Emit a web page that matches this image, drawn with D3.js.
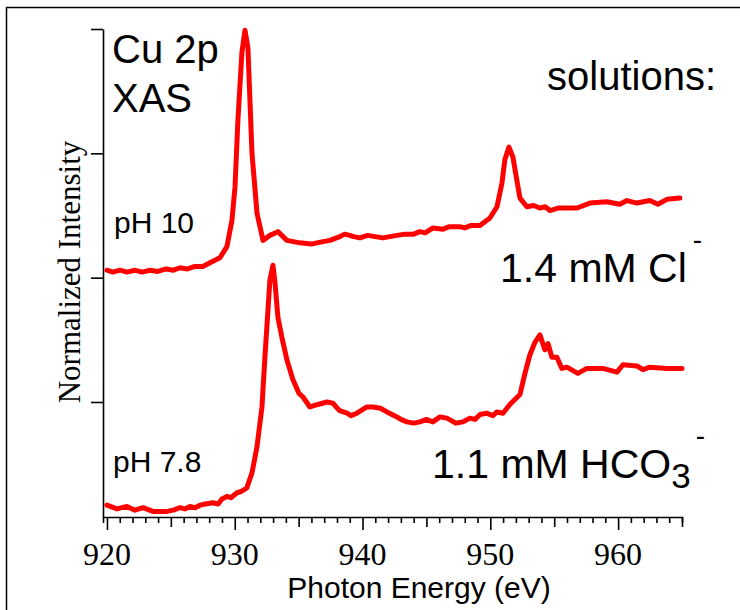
<!DOCTYPE html>
<html>
<head>
<meta charset="utf-8">
<script src="https://cdn.jsdelivr.net/npm/d3@7"></script>
<style>
    body { margin: 0; background: #fff; }
    .sans { font-family: "Liberation Sans", Arial, sans-serif; }
    .serif { font-family: "Liberation Serif", "Times New Roman", serif; }
</style>
</head>
<body>
<div id="chart"></div>
<script>

// pH 10, 1.4 mM Cl- (offset spectrum, upper)
var energyCl = [920.0, 920.47, 921.02, 921.56, 922.19, 922.74, 923.36, 923.99, 924.62, 925.2,
    925.71, 926.3, 926.89, 927.5, 928.06, 928.84, 929.39, 929.78, 930.02, 930.25,
    930.56, 930.8, 931.03, 931.35, 931.74, 932.21, 932.75, 933.38, 934.08, 935.1,
    936.0, 936.43, 936.9, 937.45, 938.23, 938.6, 939.01, 939.3, 939.8, 940.4,
    940.97, 941.6, 942.14, 942.7, 943.32, 944.0, 944.49, 944.9, 945.51, 946.3,
    946.8, 947.62, 948.0, 948.5, 949.19, 949.97, 950.52, 950.91, 951.14, 951.46,
    951.77, 952.08, 952.32, 952.86, 953.4, 953.88, 954.3, 954.66, 955.3, 955.99,
    956.78, 957.79, 959.12, 960.14, 960.69, 961.47, 962.49, 963.11, 963.82, 964.84];
var intensityCl = [1.06, 1.045, 1.06, 1.045, 1.06, 1.045, 1.06, 1.05, 1.07, 1.06,
    1.08, 1.07, 1.09, 1.09, 1.12, 1.16, 1.25, 1.46, 1.73, 2.27,
    2.81, 2.99, 2.85, 2.0, 1.52, 1.3, 1.34, 1.37, 1.3, 1.28,
    1.27, 1.28, 1.29, 1.3, 1.33, 1.35, 1.34, 1.33, 1.32, 1.34,
    1.33, 1.32, 1.33, 1.34, 1.35, 1.35, 1.37, 1.36, 1.4, 1.39,
    1.41, 1.41, 1.4, 1.42, 1.42, 1.48, 1.57, 1.76, 1.95, 2.05,
    1.97, 1.78, 1.64, 1.57, 1.58, 1.56, 1.57, 1.54, 1.56, 1.56,
    1.56, 1.6, 1.61, 1.59, 1.62, 1.6, 1.62, 1.59, 1.63, 1.64];

// pH 7.8, 1.1 mM HCO3- (lower)
var energyHco3 = [920.0, 920.78, 921.56, 922.19, 922.82, 923.6, 924.69, 925.2, 925.71, 926.1,
    926.49, 926.9, 927.28, 927.7, 928.29, 928.7, 929.0, 929.39, 929.7, 930.17,
    930.5, 930.95, 931.35, 931.74, 932.13, 932.36, 932.6, 932.75, 932.99, 933.15,
    933.38, 933.69, 934.08, 934.55, 935.02, 935.34, 935.88, 936.51, 937.21, 937.68,
    938.2, 938.78, 939.1, 939.56, 940.34, 940.81, 941.4, 941.91, 942.69, 943.0,
    943.47, 944.0, 944.49, 945.0, 945.5, 946.06, 946.6, 947.3, 947.86, 948.4,
    948.8, 949.19, 949.7, 950.2, 950.52, 950.99, 951.53, 952.32, 952.71, 953.1,
    953.49, 953.88, 954.27, 954.51, 954.82, 955.21, 955.6, 955.99, 956.85, 957.56,
    958.81, 959.91, 960.38, 961.47, 961.94, 962.49, 963.82, 965.0];
var intensityHco3 = [-0.83, -0.86, -0.84, -0.87, -0.85, -0.88, -0.88, -0.87, -0.85, -0.86,
    -0.84, -0.85, -0.83, -0.82, -0.81, -0.82, -0.78, -0.76, -0.77, -0.73,
    -0.72, -0.69, -0.57, -0.36, -0.04, 0.36, 0.74, 0.98, 1.1, 0.96,
    0.68, 0.52, 0.34, 0.18, 0.07, 0.04, -0.04, -0.02, 0.0, -0.01,
    -0.07, -0.09, -0.11, -0.09, -0.04, -0.04, -0.05, -0.08, -0.12, -0.14,
    -0.16, -0.17, -0.16, -0.14, -0.16, -0.12, -0.13, -0.17, -0.16, -0.13,
    -0.14, -0.1, -0.09, -0.11, -0.08, -0.09, -0.02, 0.06, 0.23, 0.38,
    0.48, 0.54, 0.42, 0.47, 0.36, 0.36, 0.27, 0.28, 0.23, 0.27,
    0.27, 0.24, 0.3, 0.29, 0.26, 0.28, 0.27, 0.27];

var xTickLabels = [920, 930, 940, 950, 960];
var yTickValues = [0, 1, 2, 3];

var width = 740, height = 610;

var svg = d3.select("#chart").append("svg")
    .attr("width", width)
    .attr("height", height);

// frame (only top and left edges are visible)
svg.append("line").attr("x1", 6).attr("x2", width).attr("y1", 7.5).attr("y2", 7.5)
    .style("stroke", "#000").style("stroke-width", 1.5);
svg.append("line").attr("x1", 6.5).attr("x2", 6.5).attr("y1", 7).attr("y2", height)
    .style("stroke", "#000").style("stroke-width", 1.5);

var x = d3.scaleLinear()
    .domain([919.69, 965])
    .range([103, 682]);

var y = d3.scaleLinear()
    .domain([-0.925, 3])
    .range([517, 29]);

// x axis with minor / medium / major ticks
var xAxis = d3.axisBottom(x)
    .tickValues(d3.range(920, 966))
    .tickSizeOuter(0)
    .tickSize(6)
    .tickFormat("");

var xElement = svg.append("g")
    .attr("class", "x axis")
    .attr("transform", "translate(0,517)")
    .call(xAxis);

xElement.selectAll(".tick line")
    .attr("y2", function (d) {
        if (d % 10 == 0) return 13;
        if (d % 5 == 0) return 10;
        return 6;
    });

xElement.selectAll("path, line")
    .style("stroke", "#000")
    .style("stroke-width", 1.6);

svg.selectAll(".xlabel")
    .data(xTickLabels)
    .enter()
    .append("text")
    .attr("class", "xlabel serif")
    .attr("x", function (d) { return x(d); })
    .attr("y", 565)
    .style("font-size", "32px")
    .style("text-anchor", "middle")
    .text(function (d) { return d; });

var yAxis = d3.axisLeft(y)
    .tickValues(yTickValues)
    .tickSizeInner(12)
    .tickSizeOuter(0)
    .tickFormat("");

svg.append("g")
    .attr("class", "y axis")
    .attr("transform", "translate(103,0)")
    .call(yAxis)
    .selectAll("path, line")
    .style("stroke", "#000")
    .style("stroke-width", 1.6);

// axis titles
svg.append("text")
    .attr("class", "sans")
    .attr("x", 419)
    .attr("y", 598)
    .style("font-size", "30px")
    .style("text-anchor", "middle")
    .text("Photon Energy (eV)");

svg.append("text")
    .attr("class", "serif")
    .attr("transform", "translate(80,272) rotate(-90)")
    .style("font-size", "31px")
    .style("text-anchor", "middle")
    .text("Normalized Intensity");

// spectra
var line = d3.line()
    .x(function (d) { return x(d[0]); })
    .y(function (d) { return y(d[1]); });

var series = [
    d3.zip(energyCl, intensityCl),
    d3.zip(energyHco3, intensityHco3)
];

svg.selectAll(".spectrum")
    .data(series)
    .enter()
    .append("path")
    .attr("class", "spectrum")
    .attr("d", line)
    .style("fill", "none")
    .style("stroke", "#ff0000")
    .style("stroke-width", 5)
    .style("stroke-linejoin", "round")
    .style("stroke-linecap", "round");

// annotations
function label(txt, px, py, size, anchor) {
    return svg.append("text")
        .attr("class", "sans")
        .attr("x", px)
        .attr("y", py)
        .style("font-size", size + "px")
        .style("text-anchor", anchor || "start")
        .text(txt);
}

label("Cu 2p", 112, 63, 40);
label("XAS", 112, 112, 40);
label("solutions:", 716, 90, 40, "end");
label("pH 10", 114, 233, 30);
label("pH 7.8", 113, 472, 30);

var cl = label("1.4 mM Cl", 500, 282, 41);
cl.append("tspan").attr("dx", 6).attr("dy", -33).style("font-size", "28px").text("-");

var hco = label("1.1 mM HCO", 432, 478, 41);
hco.append("tspan").attr("dy", 10).style("font-size", "35px").text("3");
hco.append("tspan").attr("dx", 5).attr("dy", -43).style("font-size", "28px").text("-");

</script>
</body>
</html>
